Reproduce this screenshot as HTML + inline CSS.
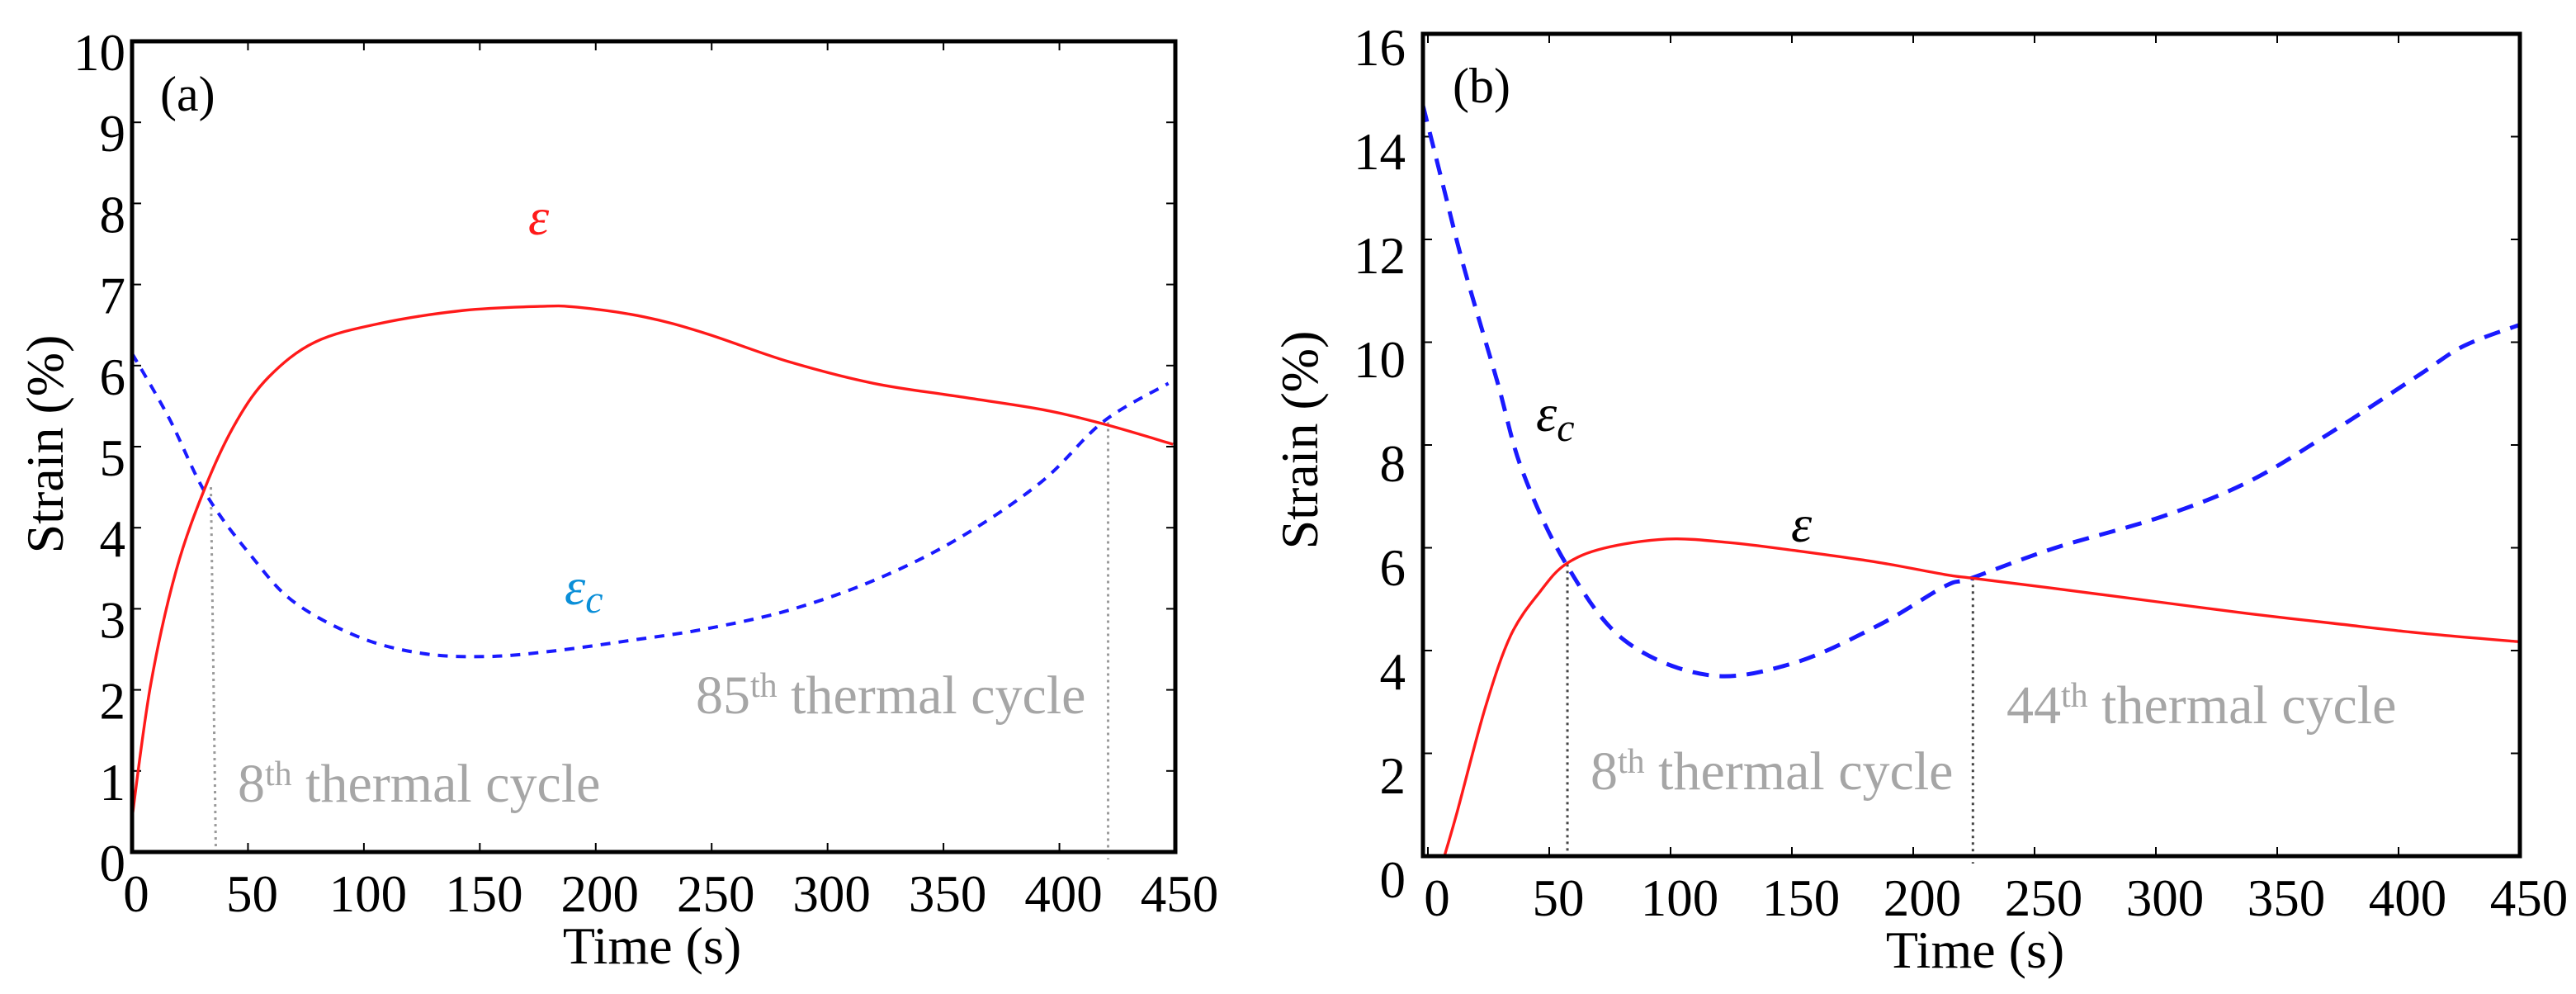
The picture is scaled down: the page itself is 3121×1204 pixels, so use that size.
<!DOCTYPE html>
<html><head><meta charset="utf-8">
<style>
html,body{margin:0;padding:0;background:#fff;}
svg{display:block;font-family:"Liberation Serif",serif;}
</style></head>
<body>
<svg id="fig" width="3121" height="1204" viewBox="0 0 3121 1204" xmlns="http://www.w3.org/2000/svg"></svg>
<script>
// ---- Panel (a) data ----
const aTimeRed = [0,8,19,32,45,59,79,107,143,176,192,221,247,283,320,356,392,419,449];
const aStrainRed = [0.42,2.06,3.47,4.53,5.31,5.86,6.29,6.52,6.68,6.73,6.72,6.6,6.4,6.05,5.78,5.62,5.46,5.28,5.03];
const aTimeBlue = [0,16,32,52,70,98,125,152,179,215,247,283,320,356,392,419,447];
const aStrainBlue = [6.15,5.35,4.41,3.63,3.08,2.65,2.45,2.41,2.47,2.61,2.75,2.98,3.35,3.86,4.56,5.31,5.78];
const aYTicks = [0,1,2,3,4,5,6,7,8,9,10];
const aXTicks = [0,50,100,150,200,250,300,350,400,450];
const aCycleTimes = [34,421];
const aCycleStrain = [4.5,5.3];
// ---- Panel (b) data ----
const bTimeRed = [6.8,12,23.7,34.2,46.3,56.8,72.4,98.5,124.5,150.5,185,213,224,258,302,338,373,409,450];
const bStrainRed = [0,0.85,2.9,4.3,5.15,5.68,5.99,6.17,6.1,5.95,5.72,5.48,5.41,5.21,4.94,4.72,4.53,4.34,4.17];
const bTimeBlue = [-2,6,14.6,28.5,38.9,57,81,116,151,186,213,224,258,302,338,373,409,427,450];
const bStrainBlue = [14.6,13.1,11.5,9.25,7.5,5.68,4.2,3.52,3.76,4.5,5.25,5.41,5.99,6.6,7.28,8.27,9.38,9.93,10.34];
const bYTicks = [0,2,4,6,8,10,12,14,16];
const bXTicks = [0,50,100,150,200,250,300,350,400,450];
const bCycleTimes = [57.5,224.6];
const bCycleStrain = [5.68,5.41];

const NS = "http://www.w3.org/2000/svg";
const svg = document.getElementById('fig');
function el(tag, attrs, parent, text){
  const e = document.createElementNS(NS, tag);
  for (const k in attrs) e.setAttribute(k, attrs[k]);
  if (text !== undefined) e.textContent = text;
  (parent||svg).appendChild(e);
  return e;
}
function smoothPath(pts){
  let d = "M"+pts[0][0].toFixed(1)+","+pts[0][1].toFixed(1);
  for (let i=0;i<pts.length-1;i++){
    const p0=pts[Math.max(0,i-1)], p1=pts[i], p2=pts[i+1], p3=pts[Math.min(pts.length-1,i+2)];
    const c1=[p1[0]+(p2[0]-p0[0])/6, p1[1]+(p2[1]-p0[1])/6];
    const c2=[p2[0]-(p3[0]-p1[0])/6, p2[1]-(p3[1]-p1[1])/6];
    d += " C"+c1[0].toFixed(1)+","+c1[1].toFixed(1)+" "+c2[0].toFixed(1)+","+c2[1].toFixed(1)+" "+p2[0].toFixed(1)+","+p2[1].toFixed(1);
  }
  return d;
}

function panel(cfg){
  const g = el('g', {});
  
  
  const X = t => cfg.x0 + (t - cfg.tmin) * (cfg.x1 - cfg.x0) / (cfg.tmax - cfg.tmin);
  const Y = v => cfg.y0 - (v - cfg.vmin) * (cfg.y0 - cfg.y1) / (cfg.vmax - cfg.vmin);
  cfg.xTicks.forEach(t => {
    const x = X(t);
    const a = el('line', {x1:x, y1:cfg.y0, x2:x, y2:cfg.y0-11, stroke:'#000','stroke-width':2}, g);
    
    
    const b = el('line', {x1:x, y1:cfg.y1, x2:x, y2:cfg.y1+11, stroke:'#000','stroke-width':2}, g);
    
    
    const lb = el('text', {x:x+cfg.xlOff, y:cfg.y0+72, 'font-size':63, 'text-anchor':'middle'}, g, String(t));
    
    
  });
  cfg.yTicks.forEach(v => {
    const y = Y(v);
    const a = el('line', {x1:cfg.x0, y1:y, x2:cfg.x0+11, y2:y, stroke:'#000','stroke-width':2}, g);
    
    
    const b = el('line', {x1:cfg.x1, y1:y, x2:cfg.x1-11, y2:y, stroke:'#000','stroke-width':2}, g);
    
    
    const ly = cfg.labelY(v, y);
    const lb = el('text', {x:cfg.ylRight, y:ly+21, 'font-size':63, 'text-anchor':'end'}, g, String(v));
    
    
  });
  for (let i=0;i<cfg.cycT.length;i++){
    const x = X(cfg.cycT[i]);
    const ln = el('line', {x1:x, y1:Y(cfg.cycV[i]), x2:x + (cfg.slant && i===0 ? 6 : 0), y2:cfg.y0+(i===1?9:0), stroke:cfg.dotColor, 'stroke-width':3, 'stroke-dasharray':'3 5'}, g);
    
    
  }
  const bp = cfg.tBlue.map((t,i)=>[X(t), Y(cfg.vBlue[i])]);
  const blue = el('path', {d:smoothPath(bp), fill:'none', stroke:'#1a1aff', 'stroke-width':cfg.bw, 'stroke-dasharray':cfg.dash}, g);
  
  
  const rp = cfg.tRed.map((t,i)=>[X(t), Y(cfg.vRed[i])]);
  const red = el('path', {d:smoothPath(rp), fill:'none', stroke:'#ff1a1a', 'stroke-width':3.4}, g);
  
  
  const fr = el('rect', {x:cfg.x0, y:cfg.y1, width:cfg.x1-cfg.x0, height:cfg.y0-cfg.y1, fill:'none', stroke:'#000', 'stroke-width':5}, g);
  
  
  return g;
}

const ga = panel({name:'panel-a', x0:160, x1:1424, y0:1032, y1:50, tmin:0, tmax:450, vmin:0, vmax:10,
  xTicks:aXTicks, yTicks:aYTicks, xlOff:5, ylRight:152, labelY:(v,y)=>y+14,
  tRed:aTimeRed, vRed:aStrainRed, tBlue:aTimeBlue, vBlue:aStrainBlue, bw:4, dash:'12 10',
  cycT:aCycleTimes, cycV:aCycleStrain, dotColor:'#999', slant:true});
const gb = panel({name:'panel-b', x0:1724, x1:3053, y0:1037, y1:41, tmin:-2.04, tmax:450, vmin:0, vmax:16,
  xTicks:bXTicks, yTicks:bYTicks, xlOff:11, ylRight:1703, labelY:(v,y)=>1066-63*v,
  tRed:bTimeRed, vRed:bStrainRed, tBlue:bTimeBlue, vBlue:bStrainBlue, bw:5, dash:'20 13',
  cycT:bCycleTimes, cycV:bCycleStrain, dotColor:'#444', slant:false});
</script>
<svg style="position:absolute;left:0;top:0" width="3121" height="1204" viewBox="0 0 3121 1204" xmlns="http://www.w3.org/2000/svg" font-family="Liberation Serif, serif">
  <text x="194" y="134" font-size="60">(a)</text>
  <text x="1760" y="124" font-size="60">(b)</text>
  <text transform="translate(76,538) rotate(-90)" font-size="64" text-anchor="middle">Strain (%)</text>
  <text transform="translate(1596,533) rotate(-90)" font-size="64" text-anchor="middle">Strain (%)</text>
  <text x="790" y="1167" font-size="64" text-anchor="middle">Time (s)</text>
  <text x="2393" y="1172" font-size="64" text-anchor="middle">Time (s)</text>
  <text x="640" y="284" font-size="64" font-style="italic" fill="#ff1a1a">ε</text>
  <text x="684" y="732" font-size="64" font-style="italic" fill="#0b8fd8">ε<tspan font-size="48" dy="10">c</tspan></text>
  <text x="2170" y="656" font-size="64" font-style="italic">ε</text>
  <text x="1861" y="522" font-size="64" font-style="italic">ε<tspan font-size="48" dy="12">c</tspan></text>
  <text x="288" y="971" font-size="66" fill="#a6a6a6">8<tspan font-size="42" dy="-20">th</tspan><tspan dy="20"> thermal cycle</tspan></text>
  <text x="843" y="864" font-size="66" fill="#a6a6a6">85<tspan font-size="42" dy="-20">th</tspan><tspan dy="20"> thermal cycle</tspan></text>
  <text x="1927" y="956" font-size="66" fill="#a6a6a6">8<tspan font-size="42" dy="-20">th</tspan><tspan dy="20"> thermal cycle</tspan></text>
  <text x="2431" y="876" font-size="66" fill="#a6a6a6">44<tspan font-size="42" dy="-20">th</tspan><tspan dy="20"> thermal cycle</tspan></text>
</svg>
</body></html>
